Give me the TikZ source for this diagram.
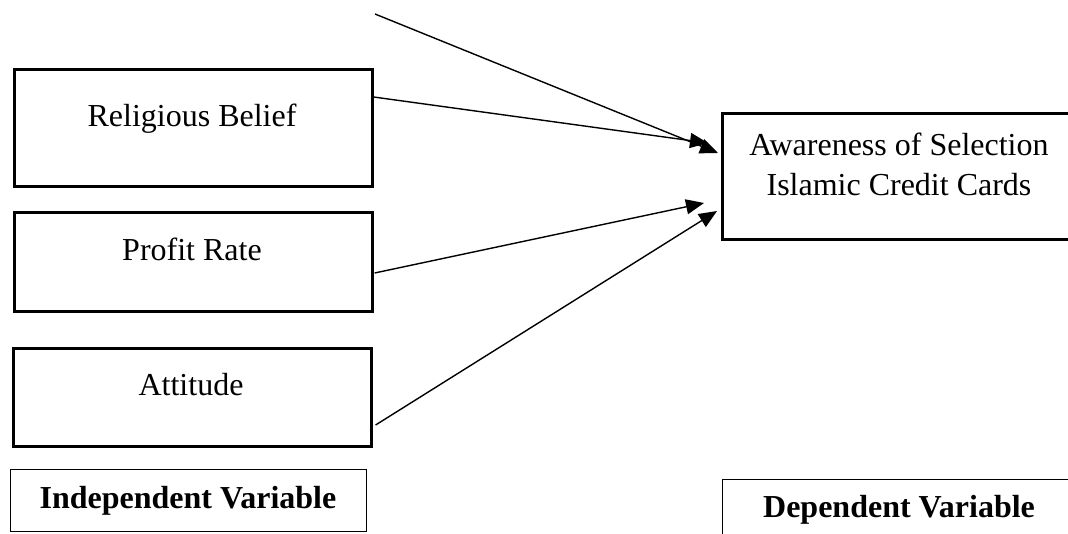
\documentclass[tikz,border=0pt]{standalone}
\usepackage{fontspec}
\setmainfont{Liberation Serif}
\usetikzlibrary{arrows.meta,calc}
\begin{document}
\begin{tikzpicture}[x=0.5pt,y=-0.5pt,
  varbox/.style={draw, line width=1.3pt, anchor=north west, inner sep=0pt},
  labbox/.style={draw, line width=0.6pt, anchor=north west, inner sep=0pt},
  txt/.style={anchor=base, inner sep=0pt, font=\fontsize{16}{20}\selectfont, align=center},
  btxt/.style={anchor=base, inner sep=0pt, font=\fontsize{16}{20}\selectfont\bfseries},
  arr/.style={line width=0.7pt, -{Triangle[length=9pt,width=7.5pt]}}]
\useasboundingbox (0,0) rectangle (1068,534);
\clip (0,0) rectangle (1068,534);
% independent variable boxes
\node[varbox, minimum width=358*0.5pt, minimum height=117*0.5pt] (rb) at (13,68) {};
\node[txt] (rbt) at (192,127) {Religious Belief};
\node[varbox, minimum width=358*0.5pt, minimum height=99*0.5pt] (pr) at (13,211) {};
\node[txt] (prt) at (192,260) {Profit Rate};
\node[varbox, minimum width=358*0.5pt, minimum height=98*0.5pt] (at) at (12,347) {};
\node[txt] (att) at (191,395) {Attitude};
\node[labbox, minimum width=356*0.5pt, minimum height=62*0.5pt] (iv) at (10,469) {};
\node[btxt] (ivt) at (188,508) {Independent Variable};
% dependent variable
\node[varbox, minimum width=356*0.5pt, minimum height=126*0.5pt] (aw) at (721,112) {};
\node[txt] (awt) at (899,195) {Awareness of Selection\\Islamic Credit Cards};
\node[labbox, minimum width=356*0.5pt, minimum height=80*0.5pt] (dv) at (722,479) {};
\node[btxt] (dvt) at (899,517) {Dependent Variable};
% connectors
\coordinate (top) at (375,14);
\coordinate (t1) at (718,153);
\coordinate (t2) at (708,143);
\coordinate (t3) at (704,203);
\coordinate (t4) at (717,211);
\coordinate (s2) at ($(rb.north east)+(0,29)$);
\coordinate (s3) at ($(pr.north east)+(1,62)$);
\coordinate (s4) at ($(at.north east)+(3,78)$);
\draw[arr] (top) -- (t1);
\draw[arr] (s2) -- (t2);
\draw[arr] (s3) -- (t3);
\draw[arr] (s4) -- (t4);
\end{tikzpicture}
\end{document}
